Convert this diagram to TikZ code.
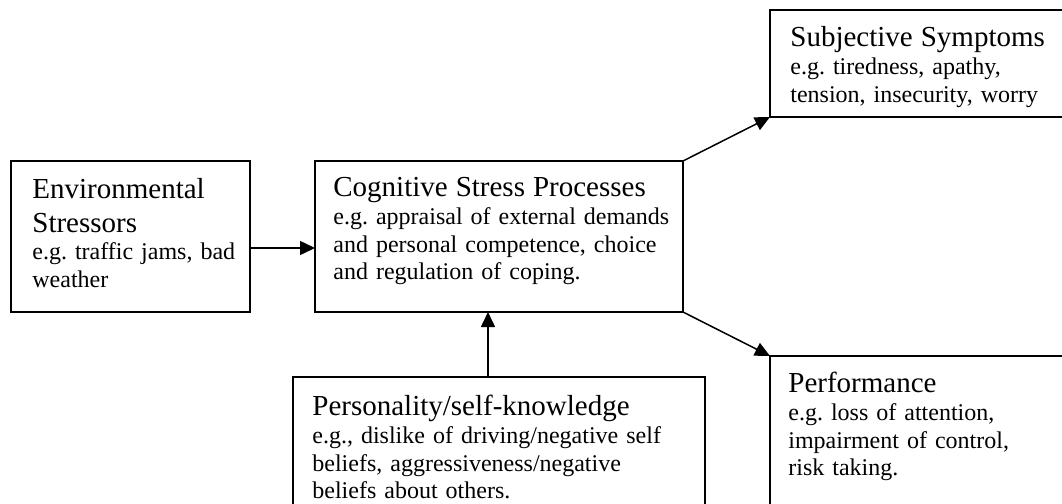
\documentclass[tikz,border=0pt]{standalone}
\usepackage{fontspec}
\setmainfont{Liberation Serif}
\usetikzlibrary{arrows.meta}
\frenchspacing
\newcommand\ttlline[1]{{\fontsize{14.5}{16.8}\selectfont\rule{0pt}{12pt}#1\par}}
\begin{document}
\begin{tikzpicture}[x=0.5pt, y=-0.5pt,
  box/.style={draw, line width=1pt, inner sep=0pt, outer sep=0pt, anchor=north west},
  arr/.style={line width=0.75pt, -{Triangle[length=7.5pt,width=7pt]}},
  txt/.style={anchor=north west, inner sep=0pt, text width=190pt, align=left,
    font=\fontsize{12}{13.9}\selectfont\frenchspacing, execute at begin node={\parindent=0pt\parskip=0pt}}]
\useasboundingbox (0,0) rectangle (1062,504);
\clip (0,0) rectangle (1062,504);
% boxes
\node[box, minimum width=119.5pt, minimum height=75.5pt] (env) at (11,161) {};
\node[box, minimum width=184pt, minimum height=75.5pt] (cog) at (315,161) {};
\node[box, minimum width=155pt, minimum height=53.5pt] (subj) at (770,10) {};
\node[box, minimum width=155pt, minimum height=87pt] (perf) at (770,356) {};
\node[box, minimum width=206pt, minimum height=76.5pt] (pers) at (293,377) {};
% texts
\node[txt] (envt) at ([shift={(21,13)}]env.north west)
  {\ttlline{Environmental\\Stressors}e.g. traffic jams, bad\\weather};
\node[txt] (cogt) at ([shift={(18,11)}]cog.north west)
  {\ttlline{Cognitive Stress Processes}e.g. appraisal of external demands\\and personal competence, choice\\and regulation of coping.};
\node[txt] (subjt) at ([shift={(20,12)}]subj.north west)
  {\ttlline{Subjective Symptoms}e.g. tiredness, apathy,\\tension, insecurity, worry};
\node[txt] (perft) at ([shift={(18,12)}]perf.north west)
  {\ttlline{Performance}e.g. loss of attention,\\impairment of control,\\risk taking.};
\node[txt] (perst) at ([shift={(19,14)}]pers.north west)
  {\ttlline{Personality/self-knowledge}e.g., dislike of driving/negative self\\beliefs, aggressiveness/negative\\beliefs about others.};
% connectors
\draw[arr] (env.east |- 0,248) -- (cog.west |- 0,248);
\draw[arr] (cog.north east) -- (subj.south west);
\draw[arr] (cog.south east) -- (perf.north west);
\draw[arr] (pers.north -| 488,0) -- (cog.south -| 488,0);
\end{tikzpicture}
\end{document}
